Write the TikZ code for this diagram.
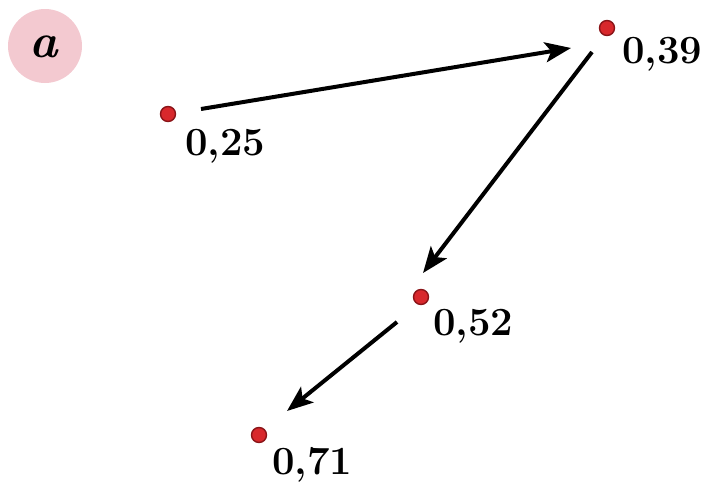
\documentclass[tikz,border=0pt]{standalone}
\usepackage{tikz}
\usetikzlibrary{arrows.meta,positioning,calc}
\usepackage{xcolor}
\definecolor{dotred}{HTML}{D8282C}
\definecolor{dotrim}{HTML}{8A1418}
\definecolor{badgepink}{HTML}{F3C9D0}

\begin{document}
\begin{tikzpicture}[x=0.5pt,y=-0.5pt,
  dot/.style={circle,fill=dotred,draw=dotrim,line width=0.7pt,minimum size=7.5pt,inner sep=0pt},
  val/.style={anchor=base west,inner sep=0pt,font=\fontsize{20}{24}\selectfont\bfseries},
  link/.style={line width=2pt,-{Stealth[length=13pt,width=10pt,inset=3pt]}}]
  \useasboundingbox (0,0) rectangle (713,482);
  \node (badge) [circle,fill=badgepink,minimum size=37pt,inner sep=0pt] at (45,46) {};
  \node at (44,47) {\fontsize{24}{26}\selectfont\bfseries\itshape a};
  \node (p25) [dot] at (168,114) {};
  \node (p39) [dot] at (607,28) {};
  \node (p52) [dot] at (421,297) {};
  \node (p71) [dot] at (259,435) {};
  \node (l25) [val] at ($(p25)+(17,41)$) {0,25};
  \node (l39) [val] at ($(p39)+(15,35)$) {0,39};
  \node (l52) [val] at ($(p52)+(12,38)$) {0,52};
  \node (l71) [val] at ($(p71)+(13,39)$) {0,71};
  \draw[link] ($(p25)+(33,-5)$) -- ($(p39)+(-36,20)$);
  \draw[link] ($(p39)+(-15,24)$) -- ($(p52)+(2,-24)$);
  \draw[link] ($(p52)+(-24,25)$) -- ($(p71)+(28,-24)$);
\end{tikzpicture}
\end{document}
